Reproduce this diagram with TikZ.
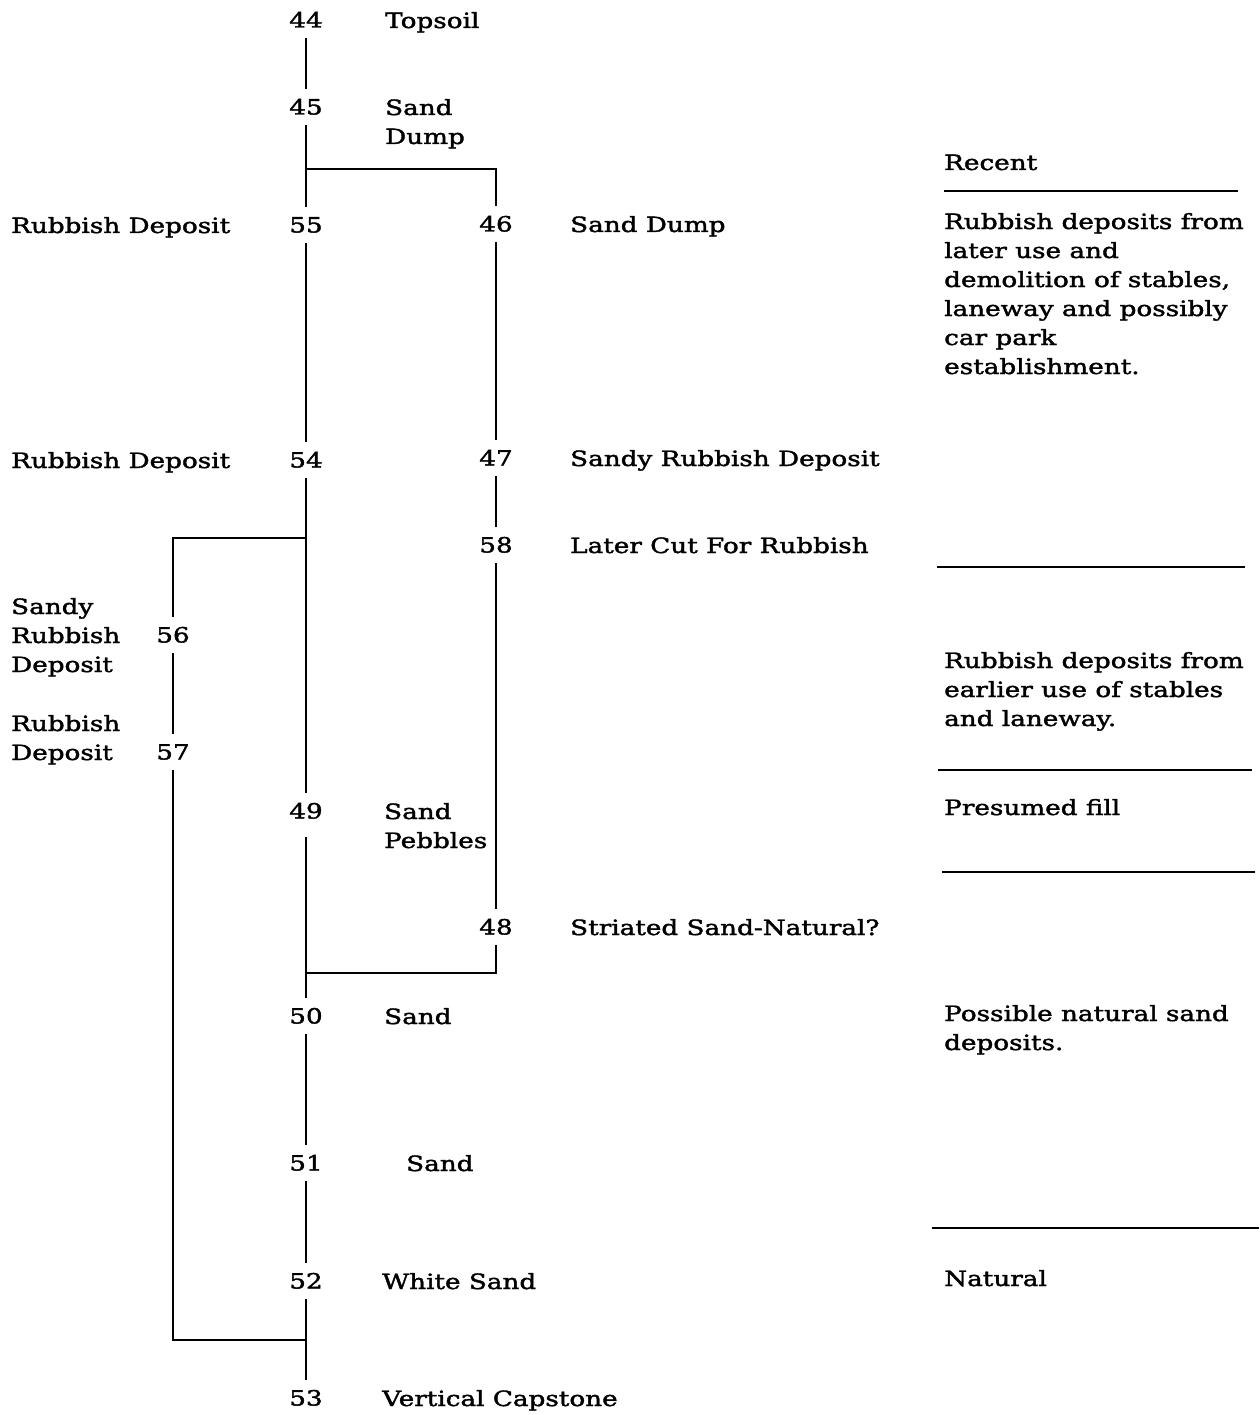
\documentclass[tikz,border=0pt]{standalone}
\usepackage{fontspec}
\setmainfont{DejaVu Serif}[FakeStretch=1.25,FakeBold=1.8]
\begin{document}
\begin{tikzpicture}[x=1pt,y=-1pt]
\tikzset{
  num/.style={font=\fontsize{21}{29}\selectfont, inner sep=0pt, text height=15pt, text depth=0pt, minimum height=36pt},
  lbl/.style={font=\fontsize{21}{29}\selectfont, inner sep=0pt, anchor=base west, align=left},
  link/.style={line width=2.3pt},
  rule/.style={line width=2.3pt},
}
\useasboundingbox[fill=white] (0,0) rectangle (1259,1415);

% unit numbers
\node[num] (n44) at (306,20) {44};
\node[num] (n45) at (306,107) {45};
\node[num] (n55) at (306,225) {55};
\node[num] (n54) at (306,460) {54};
\node[num] (n49) at (306,811) {49};
\node[num] (n50) at (306,1016) {50};
\node[num] (n51) at (306,1163) {51};
\node[num] (n52) at (306,1281) {52};
\node[num] (n53) at (306,1398) {53};
\node[num] (n46) at (496,224) {46};
\node[num] (n47) at (496,458) {47};
\node[num] (n58) at (496,545) {58};
\node[num] (n48) at (496,927) {48};
\node[num] (n56) at (173,635) {56};
\node[num] (n57) at (173,752) {57};

% unit labels (base west = baseline of the last line)
\node[lbl] (t44) at (385,28) {Topsoil};
\node[lbl] (t45) at (385,144) {Sand\\Dump};
\node[lbl] (t55) at (11,233) {Rubbish Deposit};
\node[lbl] (t54) at (11,468) {Rubbish Deposit};
\node[lbl] (t46) at (570,232) {Sand Dump};
\node[lbl] (t47) at (570,466) {Sandy Rubbish Deposit};
\node[lbl] (t58) at (570,553) {Later Cut For Rubbish};
\node[lbl] (t56) at (11,672) {Sandy\\Rubbish\\Deposit};
\node[lbl] (t57) at (11,760) {Rubbish\\Deposit};
\node[lbl] (t49) at (384,848) {Sand\\Pebbles};
\node[lbl] (t48) at (570,935) {Striated Sand-Natural?};
\node[lbl] (t50) at (384,1024) {Sand};
\node[lbl] (t51) at (406,1171) {Sand};
\node[lbl] (t52) at (382,1289) {White Sand};
\node[lbl] (t53) at (382,1406) {Vertical Capstone};

% phase notes
\node[lbl] (p1) at (944,170) {Recent};
\node[lbl] (p2) at (944,374) {Rubbish deposits from\\later use and\\demolition of stables,\\laneway and possibly\\car park\\establishment.};
\node[lbl] (p3) at (944,726) {Rubbish deposits from\\earlier use of stables\\and laneway.};
\node[lbl] (p4) at (944,815) {Presumed fill};
\node[lbl] (p5) at (944,1050) {Possible natural sand\\deposits.};
\node[lbl] (p6) at (944,1286) {Natural};

% phase rules
\draw[rule] (944,191) -- (1238,191);
\draw[rule] (937,567) -- (1245,567);
\draw[rule] (938,770) -- (1252,770);
\draw[rule] (942,872) -- (1255,872);
\draw[rule] (932,1228) -- (1259,1228);

% junctions
\coordinate (j1) at (306,169);
\coordinate (j2) at (306,538);
\coordinate (j3) at (306,973);
\coordinate (j4) at (306,1340);

% connectors
\draw[link] (n44.south) -- (n45.north);
\draw[link] (n45.south) -- (n55.north);
\draw[link] (j1) -| (n46.north);
\draw[link] (n55.south) -- (n54.north);
\draw[link] (n46.south) -- (n47.north);
\draw[link] (n47.south) -- (n58.north);
\draw[link] (n54.south) -- (n49.north);
\draw[link] (j2) -| (n56.north);
\draw[link] (n56.south) -- (n57.north);
\draw[link] (n57.south) |- (j4);
\draw[link] (n58.south) -- (n48.north);
\draw[link] (n48.south) |- (j3);
\draw[link] ([yshift=-8pt]n49.south) -- (n50.north);
\draw[link] (n50.south) -- (n51.north);
\draw[link] (n51.south) -- (n52.north);
\draw[link] (n52.south) -- (n53.north);
\end{tikzpicture}
\end{document}
